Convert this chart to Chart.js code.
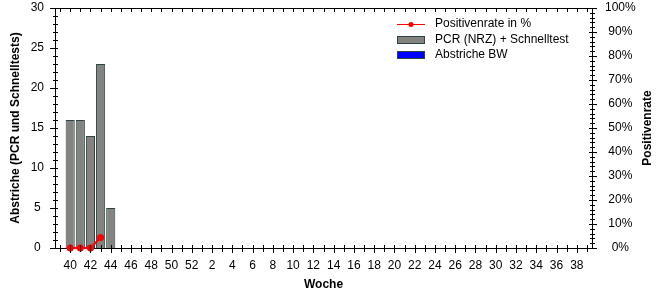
<!DOCTYPE html>
<html>
<head>
<meta charset="utf-8">
<script src="https://cdn.jsdelivr.net/npm/chart.js@4.4.1/dist/chart.umd.min.js"></script>
<style>
  html, body { margin: 0; padding: 0; background: #fff; }
  #wrap { width: 666px; height: 300px; position: relative; }
</style>
</head>
<body>
<div id="wrap"><canvas id="c" width="666" height="300"></canvas></div>
<script>
// ---- data ----
const weeks = ['39','40','41','42','43','44','45','46','47','48','49','50','51','52',
  '1','2','3','4','5','6','7','8','9','10','11','12','13','14','15','16','17','18','19','20',
  '21','22','23','24','25','26','27','28','29','30','31','32','33','34','35','36','37','38','39'];
const pcrCounts = [null, 16, 16, 14, 23, 5];          // PCR (NRZ) + Schnelltest
const bwCounts = [];                                   // Abstriche BW (no values)
const positivity = [null, 0, 0, 0, 4.35];              // Positivenrate in %
const leftTicks = { min: 0, max: 30, step: 5, minor: 1 };
const rightTicks = { min: 0, max: 100, step: 10, minor: 2 };

const FONT = 'Arial, "Liberation Sans", sans-serif';

function pad(arr) { const a = arr.slice(); while (a.length < weeks.length) a.push(null); return a; }

const axisDecor = {
  id: 'axisDecor',
  afterDraw(chart) {
    const ctx = chart.ctx;
    const a = chart.chartArea;
    const x = chart.scales.x, y = chart.scales.y, y1 = chart.scales.y1;
    ctx.save();
    ctx.strokeStyle = '#000';
    ctx.lineWidth = 1;
    ctx.beginPath();
    // top frame line
    ctx.moveTo(Math.round(a.left), Math.round(a.top) + 0.5);
    ctx.lineTo(Math.round(a.right), Math.round(a.top) + 0.5);
    // category ticks bottom & top
    for (let i = 0; i < weeks.length; i++) {
      const px = Math.round(x.getPixelForTick(i)) + 0.5;
      const long = i % 2 === 1;
      ctx.moveTo(px, Math.round(a.bottom) - 3);
      ctx.lineTo(px, Math.round(a.bottom) + (long ? 5 : 4));
      ctx.moveTo(px, Math.round(a.top));
      ctx.lineTo(px, Math.round(a.top) + 4);
    }
    // left axis ticks
    for (let v = leftTicks.min; v <= leftTicks.max; v += leftTicks.minor) {
      const py = Math.round(y.getPixelForValue(v)) + 0.5;
      const major = v % leftTicks.step === 0;
      ctx.moveTo(Math.round(a.left) - (major ? 5 : 2), py);
      ctx.lineTo(Math.round(a.left) + 3, py);
    }
    // right axis ticks
    for (let v = rightTicks.min; v <= rightTicks.max; v += rightTicks.minor) {
      const py = Math.round(y1.getPixelForValue(v)) + 0.5;
      const major = v % rightTicks.step === 0;
      ctx.moveTo(Math.round(a.right) - (major ? 3 : 2), py);
      ctx.lineTo(Math.round(a.right) + (major ? 5 : 3), py);
    }
    ctx.stroke();

    // right axis title (reads bottom-to-top)
    const t = chart.options.scales.y1.title;
    ctx.font = 'bold 12px ' + FONT;
    ctx.fillStyle = '#000';
    ctx.textAlign = 'center';
    ctx.textBaseline = 'middle';
    ctx.translate(648, (a.top + a.bottom) / 2);
    ctx.rotate(-Math.PI / 2);
    ctx.fillText(t.text, 0, 0);
    ctx.restore();

    // legend
    ctx.save();
    ctx.font = '12px ' + FONT;
    ctx.textBaseline = 'middle';
    ctx.textAlign = 'left';
    const lx = 397, tx = 435;
    const rows = [24, 39.5, 55];
    chart.data.datasets.forEach((ds, i) => {
      const ry = rows[i];
      if (ds.type === 'line') {
        ctx.strokeStyle = ds.borderColor; ctx.lineWidth = 1;
        ctx.beginPath(); ctx.moveTo(lx, Math.round(ry) + 0.5); ctx.lineTo(lx + 28, Math.round(ry) + 0.5); ctx.stroke();
        ctx.fillStyle = ds.pointBackgroundColor;
        ctx.beginPath(); ctx.arc(lx + 14, Math.round(ry) + 0.5, 2.5, 0, Math.PI * 2); ctx.fill();
      } else {
        ctx.fillStyle = ds.backgroundColor;
        ctx.fillRect(lx, Math.round(ry) - 4, 28, 8);
        ctx.strokeStyle = ds.borderColor; ctx.lineWidth = 1;
        ctx.strokeRect(lx + 0.5, Math.round(ry) - 3.5, 27, 7);
      }
      ctx.fillStyle = '#000';
      ctx.fillText(ds.label, tx, ry);
    });
    ctx.restore();
  }
};

function noPadV(s) { s.paddingTop = 0; s.paddingBottom = 0; }

new Chart(document.getElementById('c'), {
  data: {
    labels: weeks,
    datasets: [
      {
        type: 'line', label: 'Positivenrate in %', data: pad(positivity), yAxisID: 'y1',
        borderColor: '#ff0000', backgroundColor: '#ff0000', pointBackgroundColor: '#ff0000',
        pointBorderColor: '#ff0000', borderWidth: 2, pointRadius: 2.5, pointHoverRadius: 2.5,
        spanGaps: false, order: 0, clip: false
      },
      {
        type: 'bar', label: 'PCR (NRZ) + Schnelltest', data: pad(pcrCounts), yAxisID: 'y',
        backgroundColor: '#838380', borderColor: '#2c4444', borderWidth: 1,
        barPercentage: 0.9, categoryPercentage: 1.0, grouped: false, order: 1
      },
      {
        type: 'bar', label: 'Abstriche BW', data: pad(bwCounts), yAxisID: 'y',
        backgroundColor: '#0000ff', borderColor: '#2c4444', borderWidth: 1,
        barPercentage: 0.9, categoryPercentage: 1.0, grouped: false, order: 2
      }
    ]
  },
  options: {
    responsive: false,
    animation: false,
    layout: { padding: { top: 8, left: 0, right: 0, bottom: 0 } },
    plugins: { legend: { display: false }, tooltip: { enabled: false } },
    scales: {
      x: {
        type: 'category', offset: true,
        grid: { display: false, drawTicks: false },
        border: { display: true, color: '#000', width: 1 },
        ticks: {
          autoSkip: false, maxRotation: 0, minRotation: 0, padding: 10, color: '#000',
          font: { family: FONT, size: 12 },
          callback: function (v, i) { return i % 2 === 1 ? weeks[i] : ''; }
        },
        title: { display: true, text: 'Woche', color: '#000', font: { family: FONT, size: 12, weight: 'bold' }, padding: { top: 0, bottom: 8 } },
        afterFit(s) { s.height = 52; s.paddingLeft = 0; s.paddingRight = 0; }
      },
      y: {
        position: 'left', min: leftTicks.min, max: leftTicks.max,
        grid: { display: false, drawTicks: false },
        border: { display: true, color: '#000', width: 1 },
        ticks: { stepSize: leftTicks.step, padding: 11, crossAlign: 'center', color: '#000', font: { family: FONT, size: 12 } },
        title: { display: true, text: 'Abstriche (PCR und Schnelltests)', color: '#000', font: { family: FONT, size: 12, weight: 'bold' }, padding: { top: 8, bottom: 0 } },
        afterFit(s) { s.width = 55; noPadV(s); }
      },
      y1: {
        position: 'right', min: rightTicks.min, max: rightTicks.max,
        grid: { display: false, drawTicks: false },
        border: { display: true, color: '#000', width: 1 },
        ticks: { stepSize: rightTicks.step, padding: 13, crossAlign: 'center', color: '#000', font: { family: FONT, size: 12 },
          callback: function (v) { return v + '%'; } },
        title: { display: false, text: 'Positivenrate' },
        afterFit(s) { s.width = 74; noPadV(s); }
      }
    }
  },
  plugins: [axisDecor]
});
</script>
</body>
</html>
